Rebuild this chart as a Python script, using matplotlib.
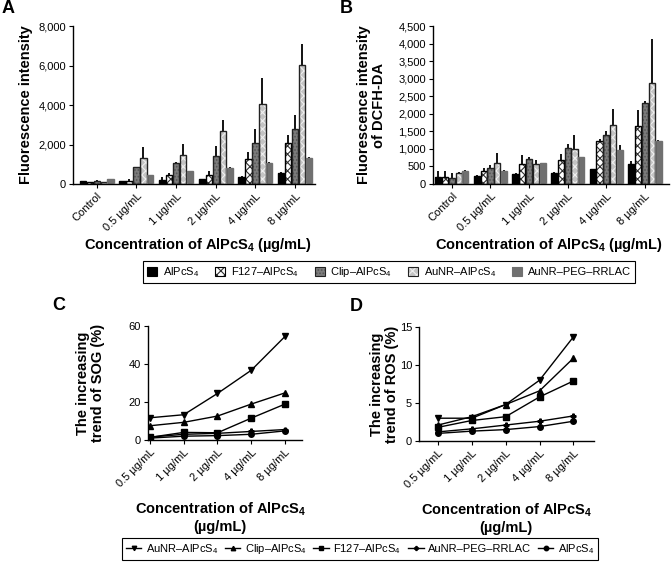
import numpy as np
import matplotlib
matplotlib.use('Agg')
import matplotlib.pyplot as plt
from matplotlib.patches import Patch
from matplotlib.legend_handler import HandlerTuple
from matplotlib.ticker import FuncFormatter

plt.rcParams['font.family'] = ['Liberation Sans', 'DejaVu Sans']
plt.rcParams['mathtext.fontset'] = 'custom'
plt.rcParams['mathtext.rm'] = 'Liberation Sans'
plt.rcParams['mathtext.bf'] = 'Liberation Sans:bold'
plt.rcParams['hatch.linewidth'] = 0.8

# bar panels
groups = ['Control', '0.5 µg/mL', '1 µg/mL', '2 µg/mL', '4 µg/mL', '8 µg/mL']
series = ['AlPcS$_4$', 'F127–AlPcS$_4$', 'Clip–AlPcS$_4$', 'AuNR–AlPcS$_4$', 'AuNR–PEG–RRLAC']

a_alpcs4 = [130, 130, 220, 230, 350, 550]
a_f127 = [90, 150, 450, 450, 1280, 2100]
a_clip = [130, 850, 1050, 1400, 2100, 2800]
a_aunr = [90, 1300, 1450, 2700, 4050, 6050]
a_peg = [230, 450, 650, 830, 1080, 1300]
a_err_alpcs4 = [40, 20, 130, 20, 30, 40]
a_err_f127 = [20, 120, 90, 200, 350, 360]
a_err_clip = [60, 30, 60, 530, 660, 680]
a_err_aunr = [20, 580, 600, 560, 1340, 1050]
a_err_peg = [20, 20, 20, 20, 30, 50]

b_alpcs4 = [200, 230, 290, 320, 420, 560]
b_f127 = [200, 380, 560, 680, 1220, 1650]
b_clip = [170, 450, 700, 1030, 1390, 2320]
b_aunr = [300, 600, 580, 1000, 1680, 2870]
b_peg = [380, 380, 600, 770, 960, 1230]
b_err_alpcs4 = [180, 20, 20, 10, 10, 90]
b_err_f127 = [180, 70, 280, 170, 60, 450]
b_err_clip = [130, 90, 60, 120, 120, 30]
b_err_aunr = [30, 270, 100, 400, 470, 1260]
b_err_peg = [10, 10, 10, 10, 140, 10]

# line panels
conc = ['0.5 µg/mL', '1 µg/mL', '2 µg/mL', '4 µg/mL', '8 µg/mL']
line_names = ['AuNR–AlPcS$_4$', 'Clip–AlPcS$_4$', 'F127–AlPcS$_4$', 'AuNR–PEG–RRLAC', 'AlPcS$_4$']

sog_aunr = [11.7, 13.3, 24.5, 36.7, 54.5]
sog_clip = [7.5, 9.3, 12.6, 18.9, 24.8]
sog_f127 = [1.4, 4.0, 3.8, 11.5, 18.9]
sog_peg = [1.5, 3.0, 3.5, 4.5, 5.5]
sog_alpcs4 = [1.0, 2.0, 2.3, 3.0, 4.8]

ros_aunr = [3.0, 3.0, 4.8, 8.0, 13.7]
ros_clip = [2.1, 3.2, 4.8, 6.6, 10.9]
ros_f127 = [1.8, 2.7, 3.2, 5.8, 7.9]
ros_peg = [1.2, 1.6, 2.1, 2.6, 3.3]
ros_alpcs4 = [1.0, 1.3, 1.5, 1.9, 2.6]

# face, hatch, hatch colour, outline
bar_styles = [
    ('black', None, 'black', 'black'),
    ('white', 'xxxx', '#303030', 'black'),
    ('#7c7c7c', '.....', '#555555', '#222222'),
    ('#c4c4c4', 'xxxx', '#f0f0f0', '#222222'),
    ('#707070', None, '#707070', '#707070'),
]
markers = ['v', '^', 's', 'P', 'o']

bold = dict(fontweight='bold', fontsize=10.5)
xlab = 'Concentration of AlPcS$_\\mathbf{4}$ (µg/mL)'

fig = plt.figure(figsize=(6.72, 5.62), dpi=100)
axA = fig.add_axes([0.1086, 0.6726, 0.360, 0.2811])
axB = fig.add_axes([0.6443, 0.6726, 0.351, 0.2811])
axC = fig.add_axes([0.2202, 0.2171, 0.229, 0.2028])
axD = fig.add_axes([0.6235, 0.2153, 0.260, 0.2028])


def style_axis(ax):
    for s in ['top', 'right']:
        ax.spines[s].set_visible(False)
    ax.spines['left'].set_linewidth(1)
    ax.spines['bottom'].set_linewidth(1)
    ax.tick_params(labelsize=8, length=3, width=0.8, pad=2)


def bar_panel(ax, vals, errs, ymax, ystep, xlim):
    x = np.arange(len(groups))
    step = 0.175
    handles = []
    for i, (v, e) in enumerate(zip(vals, errs)):
        face, hatch, hcol, edge = bar_styles[i]
        pos = x + (i - 2) * step
        ax.errorbar(pos, v, yerr=[np.zeros(len(e)), e], fmt='none', ecolor='black',
                    elinewidth=1.3, capsize=0, zorder=1)
        ax.bar(pos, v, width=0.16, color=face, hatch=hatch, edgecolor=hcol,
               linewidth=0, zorder=2)
        ax.bar(pos, v, width=0.16, fill=False, edgecolor=edge, linewidth=1.0, zorder=3)
        handles.append((Patch(facecolor=face, hatch=hatch, edgecolor=hcol, linewidth=0),
                        Patch(fill=False, edgecolor=edge, linewidth=0.8)))
    style_axis(ax)
    ax.set_xlim(*xlim)
    ax.set_ylim(0, ymax)
    ax.set_yticks(np.arange(0, ymax + 1, ystep))
    ax.yaxis.set_major_formatter(FuncFormatter(lambda v, p: f'{v:,.0f}'))
    ax.set_xticks(x)
    ax.set_xticklabels(groups, rotation=45, ha='right', rotation_mode='anchor')
    ax.set_xlabel(xlab, **bold)
    return handles


handles = bar_panel(axA, [a_alpcs4, a_f127, a_clip, a_aunr, a_peg],
                    [a_err_alpcs4, a_err_f127, a_err_clip, a_err_aunr, a_err_peg],
                    8000, 2000, (-0.6, 5.5))
bar_panel(axB, [b_alpcs4, b_f127, b_clip, b_aunr, b_peg],
          [b_err_alpcs4, b_err_f127, b_err_clip, b_err_aunr, b_err_peg],
          4500, 500, (-0.49, 5.62))
axA.set_ylabel('Fluorescence intensity', **bold)
axB.set_ylabel('Fluorescence intensity\nof DCFH-DA', **bold, linespacing=1.1)
axA.yaxis.set_label_coords(-0.165, 0.5)
axB.yaxis.set_label_coords(-0.199, 0.5)
axA.xaxis.set_label_coords(0.517, -0.33)
axB.xaxis.set_label_coords(0.49, -0.33)


def line_panel(ax, vals, ymax, ystep, xlim):
    x = np.arange(len(conc))
    lines = []
    for v, m in zip(vals, markers):
        ms = 4 if m != 'P' else 3.5
        l, = ax.plot(x, v, color='black', lw=1, marker=m, ms=ms, mec='black', mfc='black')
        lines.append(l)
    style_axis(ax)
    ax.set_xlim(*xlim)
    ax.set_ylim(0, ymax)
    ax.set_yticks(np.arange(0, ymax + 1, ystep))
    ax.set_xticks(x)
    ax.set_xticklabels(conc, rotation=45, ha='right', rotation_mode='anchor')
    ax.set_xlabel('Concentration of AlPcS$_\\mathbf{4}$\n(µg/mL)', **bold, linespacing=1.2)
    return lines


lines = line_panel(axC, [sog_aunr, sog_clip, sog_f127, sog_peg, sog_alpcs4], 60, 20, (-0.06, 4.5))
line_panel(axD, [ros_aunr, ros_clip, ros_f127, ros_peg, ros_alpcs4], 15, 5, (-0.56, 4.6))
axC.set_ylabel('The increasing\ntrend of SOG (%)', **bold, linespacing=1.1)
axD.set_ylabel('The increasing\ntrend of ROS (%)', **bold, linespacing=1.1)
axC.yaxis.set_label_coords(-0.279, 0.5)
axD.yaxis.set_label_coords(-0.114, 0.5)
axC.xaxis.set_label_coords(0.47, -0.53)
axD.xaxis.set_label_coords(0.5, -0.53)

leg1 = fig.legend(handles, series, loc='center left', bbox_to_anchor=(0.213, 0.516), ncol=5,
                  fontsize=8, frameon=True, fancybox=False, edgecolor='black', framealpha=1,
                  handler_map={tuple: HandlerTuple(ndivide=1, pad=0)},
                  handlelength=0.9, handleheight=0.9, handletextpad=0.5, columnspacing=1.45,
                  borderpad=0.35, borderaxespad=0)
leg1.get_frame().set_linewidth(0.8)
leg2 = fig.legend(lines, line_names, loc='center left', bbox_to_anchor=(0.1815, 0.023), ncol=5,
                  fontsize=8, frameon=True, fancybox=False, edgecolor='black', framealpha=1,
                  handlelength=1.4, handletextpad=0.4, columnspacing=0.6, borderpad=0.35,
                  markerscale=0.8, borderaxespad=0)
leg2.get_frame().set_linewidth(0.8)

for lbl, xx, yy in [('A', 0.012, 0.985), ('B', 0.515, 0.985), ('C', 0.088, 0.457), ('D', 0.530, 0.454)]:
    fig.text(xx, yy, lbl, fontsize=13, fontweight='bold', ha='center', va='center')

fig.savefig('out.png', dpi=100)
